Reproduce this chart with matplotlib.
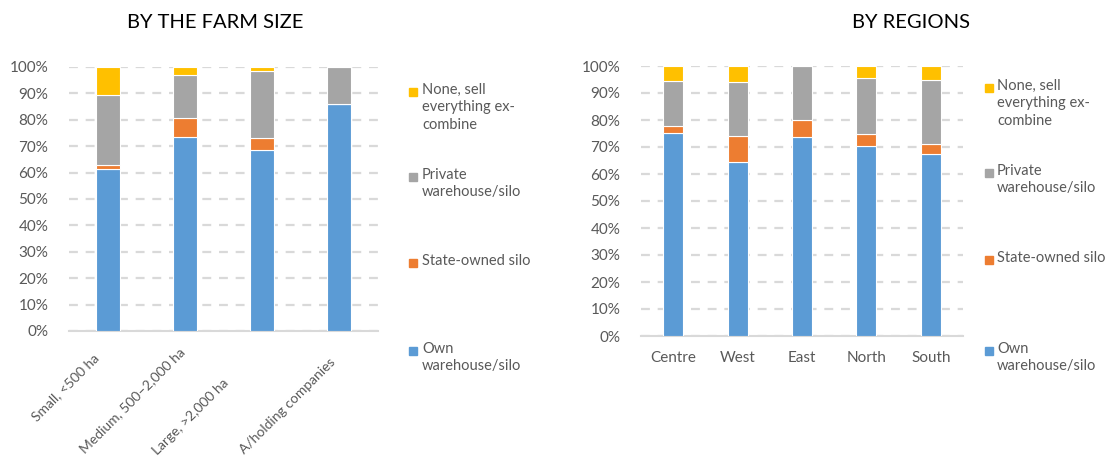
import numpy as np
import matplotlib.pyplot as plt
import matplotlib.transforms as mtransforms
from matplotlib.patches import Rectangle
from matplotlib.ticker import PercentFormatter

plt.rcParams['font.family'] = ['Lato', 'DejaVu Sans']

# series order bottom to top
series = ["Own\nwarehouse/silo", "State-owned silo", "Private\nwarehouse/silo",
          "None, sell\neverything ex-\ncombine"]
colors = ["#5B9BD5", "#ED7D31", "#A5A5A5", "#FFC000"]

# by farm size (shares, %)
size_cats = ["Small, <500 ha", "Medium, 500\u20132,000 ha", "Large, >2,000 ha", "A/holding companies"]
size_own = [61.5, 73.4, 68.7, 85.8]
size_state = [1.3, 7.3, 4.4, 0.0]
size_private = [26.5, 16.1, 25.3, 14.2]
size_none = [10.7, 3.2, 1.6, 0.0]

# by regions (shares, %)
reg_cats = ["Centre", "West", "East", "North", "South"]
reg_own = [75.1, 64.6, 73.7, 70.5, 67.4]
reg_state = [2.7, 9.5, 6.4, 4.4, 3.7]
reg_private = [16.6, 20.0, 19.9, 20.7, 23.7]
reg_none = [5.6, 5.9, 0.0, 4.4, 5.2]

txt_col = "#595959"
W, H = 1110, 463

fig = plt.figure(figsize=(W / 100, H / 100), dpi=100)


def stacked(ax, cats, vals):
    x = np.arange(len(cats))
    bottom = np.zeros(len(cats))
    for v, c in zip(vals, colors):
        ax.bar(x, v, 0.31, bottom=bottom, color=c, edgecolor="white", linewidth=0.8, zorder=3)
        bottom += np.array(v)
    ax.set_xlim(-0.5, len(cats) - 0.5)
    ax.set_ylim(0, 100)
    ax.set_yticks(np.arange(0, 101, 10))
    ax.yaxis.set_major_formatter(PercentFormatter(decimals=0))
    ax.grid(axis="y", color="#D9D9D9", linestyle=(0, (4, 3.5)), linewidth=1.6, zorder=0)
    for s in ["top", "right", "left"]:
        ax.spines[s].set_visible(False)
    ax.spines["bottom"].set_color("#D9D9D9")
    ax.spines["bottom"].set_linewidth(1.5)
    ax.tick_params(axis="both", length=0, labelsize=11, labelcolor=txt_col)
    ax.tick_params(axis="y", pad=15)
    ax.set_xticks(x)


def legend(x_sq, x_txt, ys):
    for lab, c, y in zip(series, colors, ys):
        fig.add_artist(Rectangle((x_sq / W, 1 - (y + 4) / H), 8 / W, 8 / H,
                                 transform=fig.transFigure, color=c))
        fig.text(x_txt / W, 1 - (y - 9) / H, lab, ha="left", va="top",
                 fontsize=10.5, color=txt_col, linespacing=1.3)


ax1 = fig.add_axes([69 / W, 1 - 331 / H, 309 / W, 264 / H])
stacked(ax1, size_cats, [size_own, size_state, size_private, size_none])
ax1.set_xticklabels(size_cats, rotation=45, ha="right", va="top",
                    rotation_mode="anchor", fontsize=10)
ax1.tick_params(axis="x", pad=0)
# Excel staggers the rotated labels; shift each one (pixels)
shifts = [(-15, -21), (-6, -15), (-40, -46), (-10, -25)]
for lbl, (dx, dy) in zip(ax1.get_xticklabels(), shifts):
    lbl.set_transform(lbl.get_transform() +
                      mtransforms.ScaledTranslation(dx / 100, dy / 100, fig.dpi_scale_trans))

ax2 = fig.add_axes([641 / W, 1 - 336 / H, 322 / W, 270 / H])
stacked(ax2, reg_cats, [reg_own, reg_state, reg_private, reg_none])
ax2.set_xticklabels(reg_cats)
ax2.tick_params(axis="x", pad=11)

legend(409, 422, [351, 263, 177, 92])
legend(985, 997, [351, 260, 173, 88])

fig.text(215 / W, 1 - 22 / H, "BY THE FARM SIZE", ha="center", va="center", fontsize=14.5, color="black")
fig.text(911 / W, 1 - 22 / H, "BY REGIONS", ha="center", va="center", fontsize=14.5, color="black")

fig.savefig("out.png", dpi=100)
